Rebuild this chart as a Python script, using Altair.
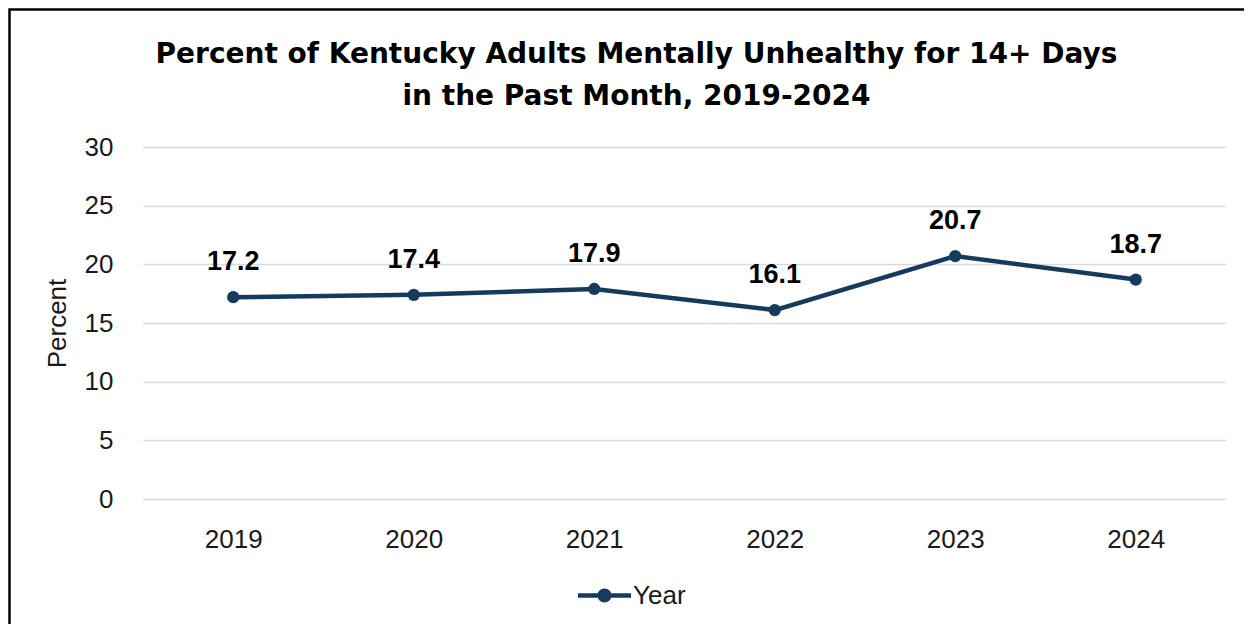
import altair as alt
import pandas as pd

years = ["2019", "2020", "2021", "2022", "2023", "2024"]
percent = [17.2, 17.4, 17.9, 16.1, 20.7, 18.7]
series_name = ["Year"] * 6
y_ticks = [0, 5, 10, 15, 20, 25, 30]

title_lines = ["Percent of Kentucky Adults Mentally Unhealthy for 14+ Days",
               "in the Past Month, 2019-2024"]

NAVY = "#143A5D"
TEXT = "#1a1a1a"

df = pd.DataFrame({"Year": years, "Percent": percent, "Series": series_name})
df["Label"] = [f"{v:.1f}" for v in percent]

W, H = 1083, 352

x_enc = alt.X("Year:O", scale=alt.Scale(padding=0.5),
              axis=alt.Axis(title=None, labelAngle=0, labelFontSize=26, labelFont="Liberation Sans",
                            labelColor=TEXT, labelPadding=27, ticks=False, domain=False, grid=False))
y_enc = alt.Y("Percent:Q", scale=alt.Scale(domain=[0, 30], nice=False),
              axis=alt.Axis(title="Percent", values=y_ticks, labelFontSize=26, labelFont="Liberation Sans",
                            labelColor=TEXT, labelPadding=30, ticks=False, domain=False,
                            grid=True, gridColor="#d9d9d9", gridWidth=1.5,
                            titleFontSize=26, titleFont="Liberation Sans", titleFontWeight="normal",
                            titleColor=TEXT, titlePadding=14))

# frame around the whole chart (extends past the right/bottom edge like the reference)
border = alt.Chart(pd.DataFrame({"b": [0]})).mark_rect(
    fillOpacity=0, stroke="#000000", strokeWidth=2.5
).encode(
    x=alt.value(-133.5), x2=alt.value(1200), y=alt.value(-137.5), y2=alt.value(600)
)

base = alt.Chart(df)

line = base.mark_line(color=NAVY, strokeWidth=4.5).encode(x=x_enc, y=y_enc)

legend_path = ("M-1,-0.085H1V0.085H-1Z"
               "M-0.264,0A0.264,0.264 0 1,1 0.264,0A0.264,0.264 0 1,1 -0.264,0Z")

points = base.mark_circle(size=150, opacity=1).encode(
    x=x_enc, y=y_enc,
    color=alt.Color("Series:N", scale=alt.Scale(range=[NAVY]),
                    legend=alt.Legend(title=None, orient="none", legendX=435, legendY=422,
                                      symbolType=legend_path, symbolSize=2809,
                                      symbolStrokeWidth=0, symbolOpacity=1,
                                      labelFontSize=26, labelFont="Liberation Sans",
                                      labelColor=TEXT, labelOffset=2, padding=0))
)

labels = base.mark_text(font="Liberation Sans", fontSize=27, fontWeight="bold", color="#000000",
                        baseline="alphabetic", dy=-27).encode(
    x=x_enc, y=y_enc, text="Label:N"
)

chart = alt.layer(border, line, points, labels).properties(
    width=W, height=H,
    padding={"left": 135, "top": 139, "right": 18, "bottom": 125},
    autosize=alt.AutoSizeParams(type="none"),
    title=alt.TitleParams(text=title_lines, font="DejaVu Sans", fontSize=28, fontWeight="bold",
                          color="#000000", lineHeight=42, anchor="middle", frame="group",
                          offset=-103, dx=-48)
).configure(background="white").configure_view(stroke=None)

chart.save("out.html", embed_options={"renderer": "svg", "actions": False})
